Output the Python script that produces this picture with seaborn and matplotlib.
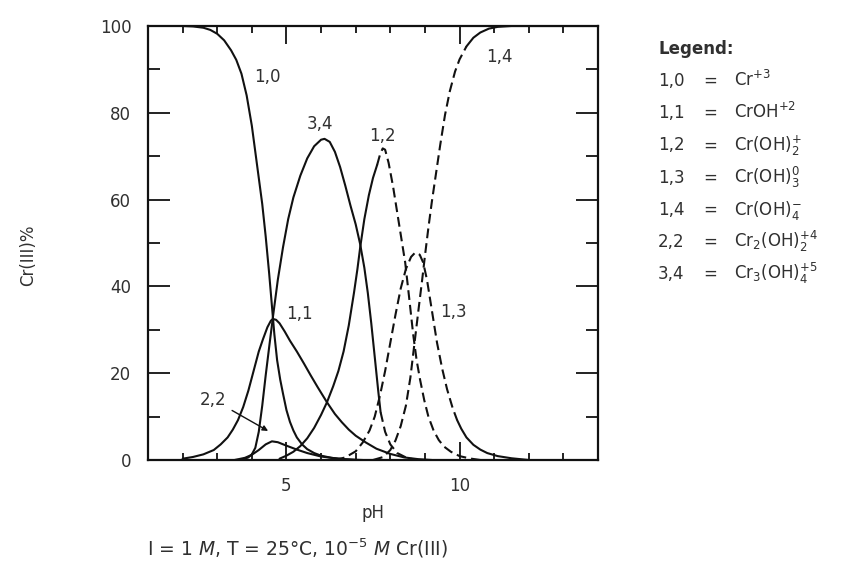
import numpy as np
import matplotlib
matplotlib.use("Agg")
import matplotlib.pyplot as plt
import seaborn as sns

# ---- species distribution of Cr(III), % of total, versus pH ----
ph_10 = [2.0, 2.3, 2.6, 2.8, 3.0, 3.2, 3.4, 3.55, 3.7, 3.85, 4.0, 4.1, 4.2, 4.3, 4.4,
         4.5, 4.58, 4.65, 4.73, 4.82, 4.9, 5.0, 5.1, 5.2, 5.3, 5.45, 5.6, 5.8, 6.0,
         6.3, 6.7, 7.2]
pct_10 = [100, 99.9, 99.6, 99.1, 98.2, 96.7, 94.4, 92.2, 89, 84, 77, 71, 65, 59, 51.5,
          43, 35.5, 29, 23, 18.5, 15.3, 11.5, 8.8, 6.8, 5.2, 3.6, 2.5, 1.6, 1.0,
          0.5, 0.15, 0]

ph_11 = [2.0, 2.3, 2.6, 2.9, 3.1, 3.3, 3.45, 3.6, 3.75, 3.9, 4.05, 4.2, 4.32, 4.45,
         4.55, 4.61, 4.7, 4.8, 4.95, 5.1, 5.3, 5.5, 5.7, 5.9, 6.17, 6.4, 6.6, 6.8,
         7.0, 7.3, 7.6, 8.0, 8.4, 8.8, 9.2]
pct_11 = [0.3, 0.7, 1.3, 2.3, 3.6, 5.2, 7.0, 9.2, 12.2, 16.0, 20.5, 25.0, 27.8, 30.6,
          32.1, 32.5, 32.3, 31.5, 29.6, 27.5, 25.0, 22.3, 19.5, 16.8, 13.3, 10.6, 8.7,
          7.0, 5.6, 4.0, 2.6, 1.4, 0.6, 0.2, 0]

ph_12 = [4.8, 5.0, 5.2, 5.4, 5.6, 5.8, 6.0, 6.17, 6.35, 6.5, 6.65, 6.8, 6.95, 7.05,
         7.13, 7.25, 7.38, 7.5, 7.62, 7.7, 7.78, 7.85, 7.95, 8.08, 8.18, 8.28, 8.43,
         8.55, 8.66, 8.76, 8.86, 8.98, 9.1, 9.25, 9.4, 9.55, 9.75, 10.0, 10.3, 10.6]
pct_12 = [0.3, 1, 1.9, 3.2, 5.0, 7.4, 10.4, 13.3, 17, 20.5, 25, 31, 38.5, 44,
          49, 55.5, 61, 65, 68, 70.3, 71.8, 71.5, 68.5, 63, 58, 53, 45.5,
          37, 29, 23, 18.5, 13.8, 10, 6.8, 4.6, 3.1, 1.9, 0.9, 0.35, 0]

ph_13 = [6.4, 6.7, 7.0, 7.2, 7.4, 7.55, 7.7, 7.85, 8.0, 8.15, 8.3, 8.45, 8.6, 8.72,
         8.85, 8.95, 9.06, 9.2, 9.35, 9.5, 9.64, 9.8, 9.93, 10.05, 10.2, 10.4, 10.6,
         10.8, 11.1, 11.5, 12.0]
pct_13 = [0, 0.6, 2, 4, 6.8, 10, 14.8, 20.5, 27, 33.5, 39.5, 44, 46.8, 47.8,
          47.3, 45.5, 41.5, 34.5, 27, 21, 16.3, 12, 9.2, 7.2, 5.2, 3.5, 2.4,
          1.6, 0.9, 0.4, 0]

ph_14 = [7.5, 7.8, 8.0, 8.15, 8.3, 8.45, 8.58, 8.7, 8.82, 8.92, 9.0, 9.1, 9.2, 9.32,
         9.44, 9.58, 9.72, 9.87, 10.0, 10.2, 10.4, 10.6, 10.85, 11.1, 11.5, 14.0]
pct_14 = [0, 0.7, 2.3, 4.5, 7.8, 12.5, 19, 27, 35, 41.5, 47, 53.5, 59.5, 66,
          72.5, 79.5, 85, 89.5, 92.3, 95.3, 97.3, 98.5, 99.4, 99.8, 100, 100]

ph_22 = [3.5, 3.8, 4.0, 4.2, 4.4, 4.58, 4.75, 5.0, 5.3, 5.6, 6.0, 6.5, 7.0]
pct_22 = [0, 0.5, 1.2, 2.3, 3.6, 4.3, 4.1, 3.3, 2.4, 1.6, 0.8, 0.3, 0]

ph_34 = [3.7, 3.9, 4.0, 4.1, 4.2, 4.3, 4.4, 4.5, 4.61, 4.75, 4.9, 5.05, 5.2, 5.4,
         5.6, 5.8, 6.0, 6.1, 6.25, 6.4, 6.55, 6.7, 6.85, 7.0, 7.13, 7.25, 7.35, 7.45,
         7.56, 7.65, 7.72, 7.85, 8.0, 8.2, 8.5, 8.8]
pct_34 = [0, 0.6, 1.3, 2.8, 6.5, 12.5, 19.5, 26, 33, 41.5, 49, 55.5, 60.5, 65.5,
          69.5, 72.3, 73.8, 74, 73.3, 71, 67.5, 63.2, 58.6, 54.3, 49.7, 44.3, 38.5, 31.5,
          23, 16, 11, 6.5, 3.6, 1.6, 0.4, 0]

curve_labels = ["1,0", "1,1", "1,2", "1,3", "1,4", "2,2", "3,4"]
label_ph = [4.45, 5.37, 7.78, 9.82, 11.15, 2.88, 5.97]
label_pct = [88.2, 33.6, 74.6, 34.2, 92.8, 13.9, 77.5]

legend_codes = ["1,0", "1,1", "1,2", "1,3", "1,4", "2,2", "3,4"]
legend_species = [r"Cr$^{+3}$", r"CrOH$^{+2}$", r"Cr(OH)$_2^{+}$", r"Cr(OH)$_3^{0}$",
                  r"Cr(OH)$_4^{-}$", r"Cr$_2$(OH)$_2^{+4}$", r"Cr$_3$(OH)$_4^{+5}$"]

x_major = [5, 10]
x_minor = list(range(2, 14))
y_major = [0, 20, 40, 60, 80, 100]
y_minor = [10, 30, 50, 70, 90]

# ---- style ----
sns.set_style("ticks")
plt.rcParams["font.family"] = ["DejaVu Sans"]
plt.rcParams["mathtext.fontset"] = "dejavusans"

INK = "#111111"
TXT = "#303030"
LW = 1.5
DASH = (0, (4.7, 2.4))

fig = plt.figure(figsize=(8.46, 5.70), dpi=100)
W, H = 846, 570
ax = fig.add_axes([148 / W, 1 - 460 / H, 450 / W, 434 / H])


def draw_species(ph, pct, dash_lo=None, dash_hi=None):
    """Draw one species curve; the pH span [dash_lo, dash_hi] is drawn dashed."""
    ph = np.asarray(ph, float)
    pct = np.asarray(pct, float)
    if dash_lo is None:
        pieces = [(np.ones_like(ph, bool), "-")]
    else:
        pieces = [(ph <= dash_lo, "-"),
                  ((ph >= dash_lo) & (ph <= dash_hi), DASH),
                  (ph >= dash_hi, "-")]
    for mask, ls in pieces:
        if mask.sum() >= 2:
            sns.lineplot(x=ph[mask], y=pct[mask], ax=ax, color=INK, lw=LW,
                         linestyle=ls, sort=False, estimator=None, legend=False)


draw_species(ph_10, pct_10)
draw_species(ph_11, pct_11)
draw_species(ph_22, pct_22)
draw_species(ph_34, pct_34, 7.72, 99)
draw_species(ph_12, pct_12, 7.62, 99)
draw_species(ph_13, pct_13, 0, 9.93)
draw_species(ph_14, pct_14, 0, 10.2)

# curve tags
for lab, xp, yp in zip(curve_labels, label_ph, label_pct):
    if lab == "2,2":
        ax.annotate(lab, xy=(4.47, 6.7), xytext=(xp, yp), ha="center", va="center",
                    fontsize=12, color=TXT,
                    arrowprops=dict(arrowstyle="-|>", color=INK, lw=1.0,
                                    mutation_scale=8, shrinkA=2, shrinkB=0))
    else:
        ax.text(xp, yp, lab, ha="center", va="center", fontsize=12, color=TXT)

# axes
ax.set_xlim(1, 14)
ax.set_ylim(0, 100)
ax.set_xticks(x_major)
ax.set_xticks(x_minor, minor=True)
ax.set_yticks(y_major)
ax.set_yticks(y_minor, minor=True)
ax.tick_params(which="both", direction="in", top=True, right=True,
               bottom=True, left=True, color=INK, width=1.3,
               labelsize=12, labelcolor=TXT)
ax.tick_params(axis="x", which="major", length=13, pad=12)
ax.tick_params(axis="x", which="minor", length=5)
ax.tick_params(axis="y", which="major", length=16, pad=12)
ax.tick_params(axis="y", which="minor", length=8.5)
for sp in ax.spines.values():
    sp.set_color(INK)
    sp.set_linewidth(1.6)

ax.set_xlabel("pH", fontsize=12, color=TXT, labelpad=7)
ax.set_ylabel("Cr(III)%", fontsize=12, color=TXT)
ax.yaxis.set_label_coords(-0.247, 0.472)

# species key on the right
fig.text(658 / W, 1 - 54 / H, "Legend:", fontsize=12, fontweight="bold",
         color=TXT, ha="left", va="baseline")
for i, (code, sp_name) in enumerate(zip(legend_codes, legend_species)):
    yb = 1 - (86 + 32.2 * i) / H
    fig.text(658 / W, yb, code, fontsize=12, color=TXT, ha="left", va="baseline")
    fig.text(710 / W, yb, "=", fontsize=12, color=TXT, ha="center", va="baseline")
    fig.text(734 / W, yb, sp_name, fontsize=12, color=TXT, ha="left", va="baseline")

# conditions
fig.text(147 / W, 1 - 555 / H,
         r"I = 1 $\mathit{M}$, T = 25°C, 10$^{-5}$ $\mathit{M}$ Cr(III)",
         fontsize=13.5, color=TXT, ha="left", va="baseline")

fig.savefig("out.png", dpi=100)
